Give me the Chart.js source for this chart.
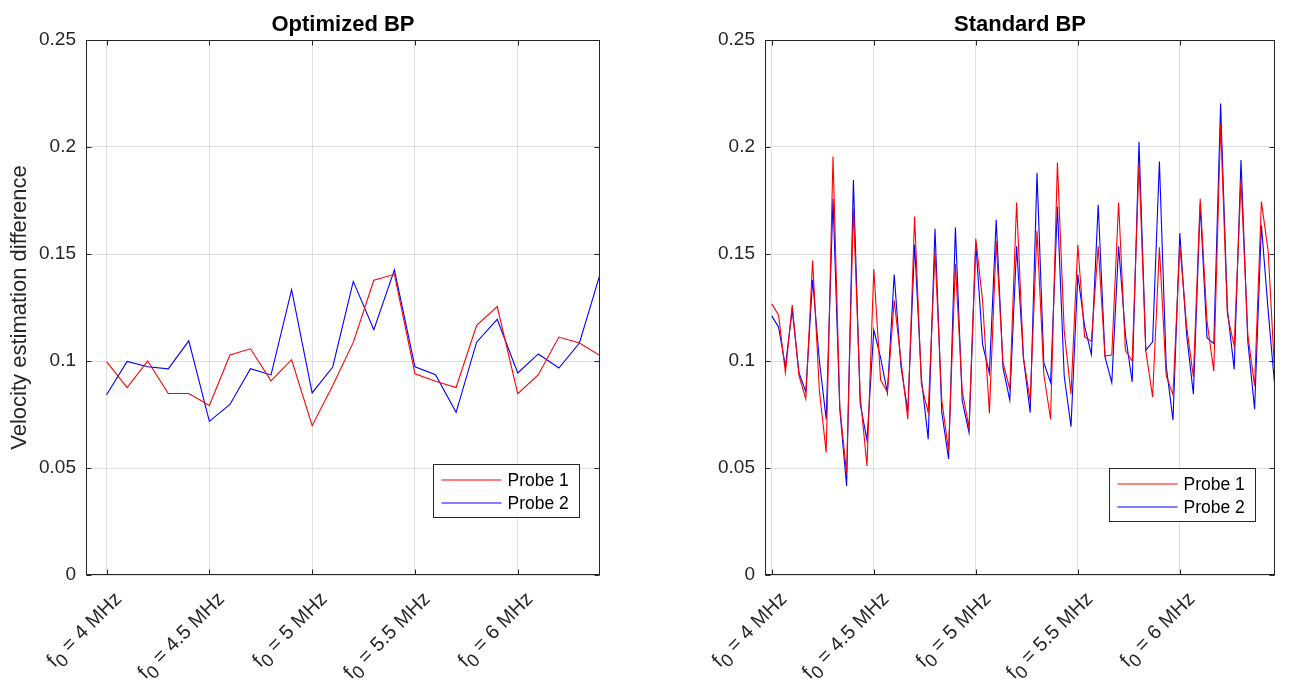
<!DOCTYPE html>
<html><head><meta charset="utf-8">
<script src="https://cdn.jsdelivr.net/npm/chart.js@4.4.0/dist/chart.umd.min.js"></script>
<style>
html,body{margin:0;padding:0;background:#fff;width:1294px;height:687px;overflow:hidden}
canvas{position:absolute;top:0}
#c1{left:0}
#c2{left:650px}
</style></head><body>
<canvas id="c1" width="640" height="687"></canvas>
<canvas id="c2" width="644" height="687"></canvas>
<script>
const tickFreqs = ['4', '4.5', '5', '5.5', '6'];
const optTickIdx = [1, 6, 11, 16, 21];
const stdTickIdx = [1, 16, 31, 46, 61];
const yTicks = [0, 0.05, 0.1, 0.15, 0.2, 0.25];
const seriesNames = ['Probe 1', 'Probe 2'];
const panelTitles = ['Optimized BP', 'Standard BP'];
const yLabel = 'Velocity estimation difference';

const optProbe1 = [0.0997, 0.0876, 0.1000, 0.0848, 0.0848, 0.0792, 0.1028, 0.1057, 0.0907, 0.1006,
  0.0698, 0.0885, 0.1087, 0.1377, 0.1405, 0.0940, 0.0905, 0.0876, 0.1167, 0.1254,
  0.0847, 0.0936, 0.1112, 0.1084, 0.1025];
const optProbe2 = [0.0842, 0.0998, 0.0973, 0.0963, 0.1094, 0.0718, 0.0797, 0.0964, 0.0935, 0.1333,
  0.0851, 0.0972, 0.1372, 0.1146, 0.1426, 0.0973, 0.0936, 0.0760, 0.1088, 0.1195,
  0.0944, 0.1033, 0.0967, 0.1084, 0.1405];

const stdProbe1 = [0.1267, 0.1214, 0.0945, 0.1262, 0.0931, 0.0823, 0.1470, 0.0860, 0.0573, 0.1955,
  0.0785, 0.0475, 0.1714, 0.0837, 0.0510, 0.1430, 0.0911, 0.0856, 0.1284, 0.1000,
  0.0728, 0.1675, 0.0890, 0.0759, 0.1512, 0.0814, 0.0581, 0.1453, 0.0860, 0.0689,
  0.1571, 0.1280, 0.0756, 0.1559, 0.0992, 0.0868, 0.1741, 0.1016, 0.0814, 0.1609,
  0.0938, 0.0728, 0.1927, 0.1140, 0.0845, 0.1543, 0.1112, 0.1092, 0.1536, 0.1023,
  0.1028, 0.1741, 0.1050, 0.1000, 0.1924, 0.1047, 0.0832, 0.1531, 0.0930, 0.0842,
  0.1543, 0.1163, 0.0925, 0.1758, 0.1186, 0.0953, 0.2106, 0.1217, 0.1070, 0.1846,
  0.1124, 0.0884, 0.1745, 0.1512, 0.0915];
const stdProbe2 = [0.1211, 0.1158, 0.0975, 0.1240, 0.0945, 0.0856, 0.1380, 0.1000, 0.0727, 0.1758,
  0.0775, 0.0416, 0.1846, 0.0800, 0.0630, 0.1145, 0.1016, 0.0850, 0.1404, 0.0972,
  0.0765, 0.1543, 0.0918, 0.0635, 0.1618, 0.0759, 0.0542, 0.1624, 0.0814, 0.0666,
  0.1551, 0.1078, 0.0943, 0.1660, 0.0969, 0.0817, 0.1536, 0.1016, 0.0759, 0.1879,
  0.0992, 0.0899, 0.1722, 0.0930, 0.0693, 0.1404, 0.1163, 0.1031, 0.1730, 0.1019,
  0.0899, 0.1536, 0.1124, 0.0902, 0.2025, 0.1050, 0.1090, 0.1932, 0.0977, 0.0724,
  0.1598, 0.1124, 0.0845, 0.1730, 0.1109, 0.1081, 0.2203, 0.1241, 0.0961, 0.1939,
  0.1093, 0.0775, 0.1634, 0.1233, 0.0868];

const FONT = '"Liberation Sans", Arial, Helvetica, sans-serif';
const AX = '#262626';
const GRID = '#dfdfdf';

function toXY(arr) { return arr.map((v, i) => ({ x: i + 1, y: v })); }

function matlabPlugin(cfg) {
  return {
    id: 'matlabAxes',
    afterDraw(chart) {
      const ctx = chart.ctx, a = chart.chartArea;
      const xs = chart.scales.x, ys = chart.scales.y;
      ctx.save();
      // title
      ctx.fillStyle = '#000';
      ctx.font = 'bold 22px ' + FONT;
      ctx.textAlign = 'center';
      ctx.textBaseline = 'alphabetic';
      ctx.fillText(cfg.title, (a.left + a.right) / 2, 31);
      // frame
      const L = Math.round(a.left) + 0.5, R = Math.round(a.right) - 0.5;
      const T = Math.round(a.top) + 0.5, B = Math.round(a.bottom) - 0.5;
      ctx.strokeStyle = AX; ctx.lineWidth = 1;
      ctx.strokeRect(L, T, R - L, B - T);
      // inward ticks
      const tl = 5;
      ctx.beginPath();
      xs.ticks.forEach(t => {
        const px = Math.round(xs.getPixelForValue(t.value)) + 0.5;
        ctx.moveTo(px, B); ctx.lineTo(px, B - tl);
        ctx.moveTo(px, T); ctx.lineTo(px, T + tl);
      });
      ys.ticks.forEach(t => {
        const py = Math.round(ys.getPixelForValue(t.value)) + 0.5;
        ctx.moveTo(L, py); ctx.lineTo(L + tl, py);
        ctx.moveTo(R, py); ctx.lineTo(R - tl, py);
      });
      ctx.stroke();
      // rotated x tick labels with subscript
      ctx.fillStyle = AX;
      xs.ticks.forEach((t, k) => {
        const px = xs.getPixelForValue(t.value);
        const rest = ' = ' + tickFreqs[k] + ' MHz';
        const main = '20px ' + FONT, sub = '18px ' + FONT;
        ctx.save();
        ctx.translate(px + 16, a.bottom + 25);
        ctx.rotate(-Math.PI / 4);
        ctx.textAlign = 'left'; ctx.textBaseline = 'alphabetic';
        ctx.font = main;
        const wf = ctx.measureText('f').width, wr = ctx.measureText(rest).width;
        ctx.font = sub;
        const w0 = ctx.measureText('0').width;
        let x = -(wf + w0 + wr);
        ctx.font = main; ctx.fillText('f', x, 0); x += wf;
        ctx.font = sub; ctx.fillText('0', x, 6); x += w0;
        ctx.font = main; ctx.fillText(rest, x, 0);
        ctx.restore();
      });
      // legend
      const bw = 146, bh = 53;
      const bx = Math.round(a.right - cfg.legRight - bw) + 0.5;
      const by = Math.round(a.bottom - cfg.legBottom - bh) + 0.5;
      ctx.fillStyle = '#fff';
      ctx.fillRect(bx, by, bw, bh);
      ctx.strokeStyle = AX; ctx.lineWidth = 1;
      ctx.strokeRect(bx, by, bw, bh);
      chart.data.datasets.forEach((ds, i) => {
        const ly = Math.round(by + 15 + i * 23);
        ctx.strokeStyle = ds.borderColor; ctx.lineWidth = 1;
        ctx.beginPath(); ctx.moveTo(bx + 8, ly); ctx.lineTo(bx + 68, ly); ctx.stroke();
        ctx.fillStyle = '#000';
        ctx.font = '17.5px ' + FONT;
        ctx.textAlign = 'left'; ctx.textBaseline = 'middle';
        ctx.fillText(ds.label, bx + 74, ly + 1);
      });
      ctx.restore();
    }
  };
}

function makeChart(id, p1, p2, tickIdx, nMax, cfg) {
  return new Chart(document.getElementById(id), {
    type: 'line',
    data: {
      datasets: [
        { label: seriesNames[0], data: toXY(p1), borderColor: '#ff0000', borderWidth: 1.1, pointRadius: 0, tension: 0, fill: false },
        { label: seriesNames[1], data: toXY(p2), borderColor: '#0000ff', borderWidth: 1.1, pointRadius: 0, tension: 0, fill: false }
      ]
    },
    options: {
      responsive: false,
      animation: false,
      events: [],
      layout: { padding: { left: 0, top: 40, right: cfg.padRight, bottom: 0 } },
      plugins: { legend: { display: false }, tooltip: { enabled: false }, title: { display: false } },
      scales: {
        x: {
          type: 'linear', min: 0, max: nMax,
          afterBuildTicks: s => { s.ticks = tickIdx.map(v => ({ value: v })); },
          afterFit: s => { s.height = 112; },
          ticks: { display: false },
          grid: { color: GRID, drawTicks: false },
          border: { display: false }
        },
        y: {
          min: 0, max: 0.25,
          afterBuildTicks: s => { s.ticks = yTicks.map(v => ({ value: v })); },
          afterFit: s => { s.width = cfg.yWidth; },
          ticks: {
            padding: 10, color: AX, font: { family: FONT, size: 19 },
            callback: v => String(+(+v).toFixed(2))
          },
          grid: { color: GRID, drawTicks: false },
          border: { display: false },
          title: {
            display: cfg.showYLabel, text: yLabel, color: AX,
            font: { family: FONT, size: 22 }, padding: { top: 7, bottom: 0 }
          }
        }
      }
    },
    plugins: [matlabPlugin(cfg)]
  });
}

makeChart('c1', optProbe1, optProbe2, optTickIdx, optProbe1.length,
  { title: panelTitles[0], padRight: 40, yWidth: 86, showYLabel: true, legRight: 21, legBottom: 58 });
makeChart('c2', stdProbe1, stdProbe2, stdTickIdx, stdProbe1.length,
  { title: panelTitles[1], padRight: 19, yWidth: 115, showYLabel: false, legRight: 20, legBottom: 54 });
</script>
</body></html>
